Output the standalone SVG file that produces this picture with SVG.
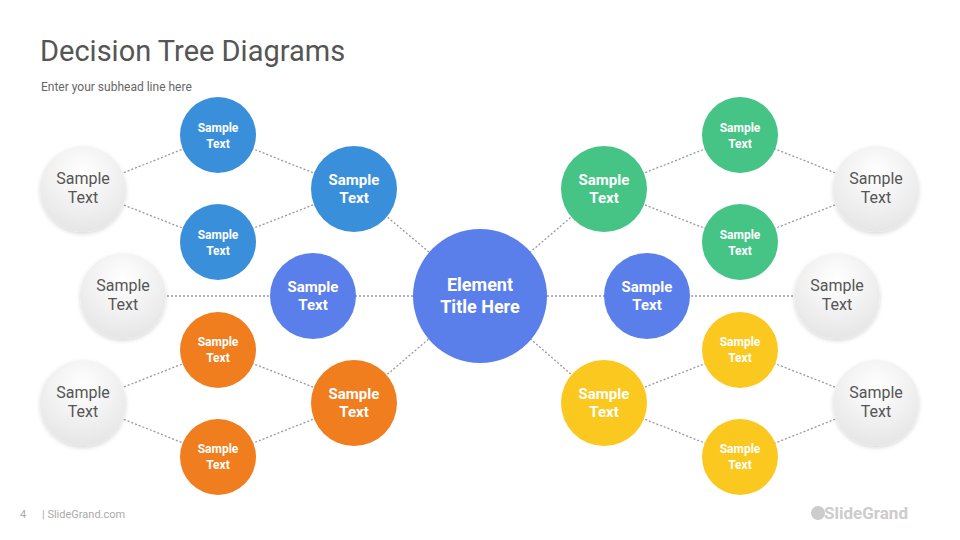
<svg xmlns="http://www.w3.org/2000/svg" width="960" height="540" viewBox="0 0 960 540">
<defs>
<radialGradient id="g" cx="50%" cy="30%" r="70%"><stop offset="0" stop-color="#ffffff"/><stop offset="1" stop-color="#e6e6e6"/></radialGradient>
<filter id="sh" x="-20%" y="-20%" width="140%" height="150%"><feDropShadow dx="0" dy="2" stdDeviation="2" flood-color="#000" flood-opacity="0.15"/></filter>
</defs>
<style>
text{font-family:Roboto,"Liberation Sans",sans-serif;text-anchor:middle}
.w{fill:#fff;font-weight:bold}
.s{font-size:12px}.m{font-size:15px}
.gt{fill:#555;font-size:16px}
.c line{stroke:#999;stroke-width:1.3;stroke-dasharray:2 2}
.gr{fill:url(#g);filter:url(#sh)}
</style>
<rect width="960" height="540" fill="#fff"/>
<text x="40" y="61" style="text-anchor:start;font-size:29px;fill:#555">Decision Tree Diagrams</text>
<text x="41" y="91" style="text-anchor:start;font-size:12px;fill:#666">Enter your subhead line here</text>
<text x="20" y="518" style="text-anchor:start;font-size:11px;fill:#aaa">4</text>
<text x="42" y="518" style="text-anchor:start;font-size:11px;fill:#aaa">| SlideGrand.com</text>
<g id="logo"><circle cx="818" cy="513" r="7" fill="#ccc"/><text x="866" y="519" style="font-size:17px;font-weight:bold;fill:#ccc">SlideGrand</text></g>
<g class="c" id="connectors">
<line x1="83" y1="189" x2="218" y2="135"/><line x1="83" y1="189" x2="218" y2="242"/>
<line x1="218" y1="135" x2="354" y2="189"/><line x1="218" y1="242" x2="354" y2="189"/>
<line x1="83" y1="403" x2="218" y2="350"/><line x1="83" y1="403" x2="218" y2="457"/>
<line x1="218" y1="350" x2="354" y2="403"/><line x1="218" y1="457" x2="354" y2="403"/>
<line x1="123" y1="296" x2="480" y2="296"/>
<line x1="354" y1="189" x2="480" y2="295"/><line x1="354" y1="403" x2="480" y2="295"/>
<line x1="876" y1="189" x2="740" y2="135"/><line x1="876" y1="189" x2="740" y2="242"/>
<line x1="740" y1="135" x2="604" y2="189"/><line x1="740" y1="242" x2="604" y2="189"/>
<line x1="876" y1="403" x2="740" y2="350"/><line x1="876" y1="403" x2="740" y2="457"/>
<line x1="740" y1="350" x2="604" y2="403"/><line x1="740" y1="457" x2="604" y2="403"/>
<line x1="837" y1="296" x2="480" y2="296"/>
<line x1="604" y1="189" x2="480" y2="295"/><line x1="604" y1="403" x2="480" y2="295"/>
</g>
<g id="center"><circle cx="480" cy="296" r="67" fill="#5B7FEA"/><text class="w" x="480" y="291" font-size="18">Element</text><text class="w" x="480" y="313" font-size="18">Title Here</text></g>
<g id="lg1"><circle class="gr" cx="83" cy="189" r="43"/><text class="gt" x="83" y="184">Sample</text><text class="gt" x="83" y="203">Text</text></g>
<g id="lg2"><circle class="gr" cx="123" cy="296" r="43"/><text class="gt" x="123" y="291">Sample</text><text class="gt" x="123" y="310">Text</text></g>
<g id="lg3"><circle class="gr" cx="83" cy="403" r="43"/><text class="gt" x="83" y="398">Sample</text><text class="gt" x="83" y="417">Text</text></g>
<g id="rg1"><circle class="gr" cx="876" cy="189" r="43"/><text class="gt" x="876" y="184">Sample</text><text class="gt" x="876" y="203">Text</text></g>
<g id="rg2"><circle class="gr" cx="837" cy="296" r="43"/><text class="gt" x="837" y="291">Sample</text><text class="gt" x="837" y="310">Text</text></g>
<g id="rg3"><circle class="gr" cx="876" cy="403" r="43"/><text class="gt" x="876" y="398">Sample</text><text class="gt" x="876" y="417">Text</text></g>
<g id="lb1"><circle cx="218" cy="135" r="38" fill="#3A8FDB"/><text class="w s" x="218" y="132">Sample</text><text class="w s" x="218" y="148">Text</text></g>
<g id="lb2"><circle cx="218" cy="242" r="38" fill="#3A8FDB"/><text class="w s" x="218" y="239">Sample</text><text class="w s" x="218" y="255">Text</text></g>
<g id="lb3"><circle cx="354" cy="189" r="43" fill="#3A8FDB"/><text class="w m" x="354" y="185">Sample</text><text class="w m" x="354" y="203">Text</text></g>
<g id="lm"><circle cx="313" cy="296" r="43" fill="#5B7FEA"/><text class="w m" x="313" y="292">Sample</text><text class="w m" x="313" y="310">Text</text></g>
<g id="lo1"><circle cx="218" cy="350" r="38" fill="#F07D1E"/><text class="w s" x="218" y="346">Sample</text><text class="w s" x="218" y="362">Text</text></g>
<g id="lo2"><circle cx="218" cy="457" r="38" fill="#F07D1E"/><text class="w s" x="218" y="453">Sample</text><text class="w s" x="218" y="469">Text</text></g>
<g id="lo3"><circle cx="354" cy="403" r="43" fill="#F07D1E"/><text class="w m" x="354" y="399">Sample</text><text class="w m" x="354" y="417">Text</text></g>
<g id="rgr1"><circle cx="740" cy="135" r="38" fill="#45C486"/><text class="w s" x="740" y="132">Sample</text><text class="w s" x="740" y="148">Text</text></g>
<g id="rgr2"><circle cx="740" cy="242" r="38" fill="#45C486"/><text class="w s" x="740" y="239">Sample</text><text class="w s" x="740" y="255">Text</text></g>
<g id="rgr3"><circle cx="604" cy="189" r="43" fill="#45C486"/><text class="w m" x="604" y="185">Sample</text><text class="w m" x="604" y="203">Text</text></g>
<g id="rm"><circle cx="647" cy="296" r="43" fill="#5B7FEA"/><text class="w m" x="647" y="292">Sample</text><text class="w m" x="647" y="310">Text</text></g>
<g id="ry1"><circle cx="740" cy="350" r="38" fill="#FBC820"/><text class="w s" x="740" y="346">Sample</text><text class="w s" x="740" y="362">Text</text></g>
<g id="ry2"><circle cx="740" cy="457" r="38" fill="#FBC820"/><text class="w s" x="740" y="453">Sample</text><text class="w s" x="740" y="469">Text</text></g>
<g id="ry3"><circle cx="604" cy="403" r="43" fill="#FBC820"/><text class="w m" x="604" y="399">Sample</text><text class="w m" x="604" y="417">Text</text></g>
</svg>
